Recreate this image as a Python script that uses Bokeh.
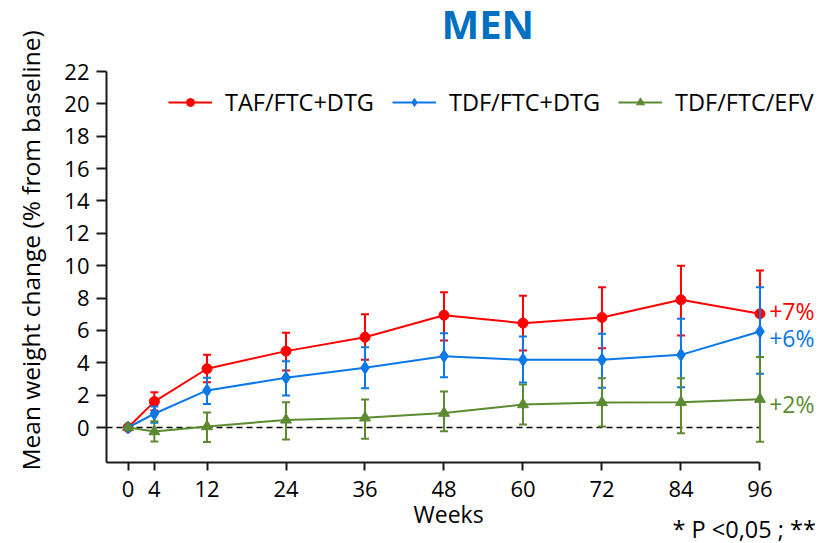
import math
from bokeh.plotting import figure
from bokeh.models import Range1d, FixedTicker, Label, Legend, LegendItem, Title
from bokeh.embed import file_html
from bokeh.resources import INLINE

# ---------------- data ----------------
weeks = [0, 4, 12, 24, 36, 48, 60, 72, 84, 96]

taf_mean  = [0, 1.60, 3.63, 4.72, 5.58, 6.94, 6.45, 6.80, 7.89, 7.03]
taf_upper = [0, 2.18, 4.50, 5.85, 7.00, 8.36, 8.14, 8.67, 10.00, 9.70]
taf_lower = [0, 1.05, 2.80, 3.52, 4.18, 5.38, 4.76, 4.90, 5.69, 4.35]

dtg_mean  = [0, 0.85, 2.29, 3.07, 3.69, 4.41, 4.18, 4.18, 4.49, 5.93]
dtg_upper = [0, 1.30, 3.07, 4.10, 4.96, 5.83, 5.62, 5.79, 6.72, 8.67]
dtg_lower = [0, 0.30, 1.46, 1.98, 2.43, 3.11, 2.78, 2.45, 2.49, 3.32]

efv_mean  = [0, -0.25, 0.06, 0.47, 0.60, 0.89, 1.42, 1.55, 1.56, 1.75]
efv_upper = [0, 0.39, 0.93, 1.56, 1.73, 2.22, 2.66, 3.05, 3.05, 4.35]
efv_lower = [0, -0.87, -0.90, -0.74, -0.70, -0.23, 0.19, 0.06, -0.35, -0.88]

series_names = ["TAF/FTC+DTG", "TDF/FTC+DTG", "TDF/FTC/EFV"]
end_labels = ["+7%", "+6%", "+2%"]
y_ticks = [0, 2, 4, 6, 8, 10, 12, 14, 16, 18, 20, 22]

FONT = "Open Sans"
RED, BLUE, GREEN = "#FF0000", "#0A78E6", "#5B8A31"

X0, X1 = -3.27, 105.35
Y0, Y1 = -2.163, 26.39
Y_AXIS_TOP = 22

p = figure(frame_width=715, frame_height=462,
           min_border_left=106, min_border_right=0, min_border_top=0, min_border_bottom=81,
           x_range=Range1d(X0, X1), y_range=Range1d(Y0, Y1),
           output_backend="svg", toolbar_location=None)
p.outline_line_color = None
p.xgrid.visible = False
p.ygrid.visible = False
p.background_fill_color = "white"
p.border_fill_color = "white"

for ax in (p.xaxis[0], p.yaxis[0]):
    ax.axis_line_width = 2
    ax.axis_line_color = "#1a1a1a"
    ax.major_tick_line_width = 2
    ax.major_tick_line_color = "#1a1a1a"
    ax.major_tick_in = 0
    ax.minor_tick_out = 0
    ax.minor_tick_in = 0
    ax.major_label_text_font = FONT
    ax.major_label_text_font_size = "22px"
    ax.major_label_text_color = "black"

p.xaxis.major_tick_out = 8
p.xaxis.major_label_standoff = 10
p.yaxis.major_tick_out = 10
p.yaxis.major_label_standoff = 7

p.xaxis.ticker = FixedTicker(ticks=weeks)
p.xaxis.bounds = (X0, weeks[-1])
p.yaxis.ticker = FixedTicker(ticks=y_ticks)
p.yaxis.bounds = (Y0, Y_AXIS_TOP)

# zero reference line
p.segment(x0=[X0], x1=[weeks[-1]], y0=[0], y1=[0], line_color="black",
          line_width=1.5, line_dash="6 4")

specs = [
    (taf_mean, taf_upper, taf_lower, RED, "circle", 10),
    (dtg_mean, dtg_upper, dtg_lower, BLUE, "diamond", 13),
    (efv_mean, efv_upper, efv_lower, GREEN, "triangle", 11),
]

legend_items = []
for (m, up, lo, col, mk, sz), name in zip(specs, series_names):
    lr = p.line(weeks, m, line_color=col, line_width=2)
    xs = weeks[1:]
    p.segment(x0=xs, x1=xs, y0=lo[1:], y1=up[1:], line_color=col, line_width=2)
    p.scatter(xs, up[1:], marker="dash", size=8, line_color=col, line_width=2)
    p.scatter(xs, lo[1:], marker="dash", size=8, line_color=col, line_width=2)
    sr = p.scatter(weeks, m, marker=mk, size=sz, fill_color=col, line_color=col)
    legend_items.append(LegendItem(label=name, renderers=[lr, sr]))

legend = Legend(items=legend_items, orientation="horizontal", location=(62, 344),
                glyph_width=44, glyph_height=20, label_standoff=13, spacing=18,
                padding=0, margin=0, border_line_color=None, background_fill_alpha=0,
                label_text_font=FONT, label_text_font_size="23.5px", label_text_color="black")
p.add_layout(legend)

# end-of-line percentages
for txt, col, yv in zip(end_labels, [RED, BLUE, GREEN], [7.23, 5.51, 1.46]):
    p.add_layout(Label(x=97.4, y=yv, text=txt, text_color=col, text_font=FONT,
                       text_font_size="23px", text_baseline="middle", text_align="left"))

# title (inside the frame area, above the axis top)
p.add_layout(Label(x=335, y=439, x_units="screen", y_units="screen", text="MEN",
                   text_color="#0070C0", text_font=FONT, text_font_size="40px",
                   text_font_style="bold", text_baseline="middle", text_align="left"))

# y axis title
p.add_layout(Title(text="Mean weight change (% from baseline)", align="left", offset=-8,
                   vertical_align="top", standoff=26, text_font=FONT,
                   text_font_size="24.5px", text_font_style="normal", text_color="black"), "left")
# x axis title
p.add_layout(Title(text="Weeks", align="left", offset=307, vertical_align="top", standoff=-4,
                   text_font=FONT, text_font_size="23px", text_font_style="normal",
                   text_color="black"), "below")
# footnote
p.add_layout(Title(text="* P <0,05 ; **", align="left", offset=566, vertical_align="top",
                   standoff=-34, text_font=FONT, text_font_size="23.5px",
                   text_font_style="normal", text_color="black"), "below")

open("out.html", "w").write(file_html(p, INLINE))
